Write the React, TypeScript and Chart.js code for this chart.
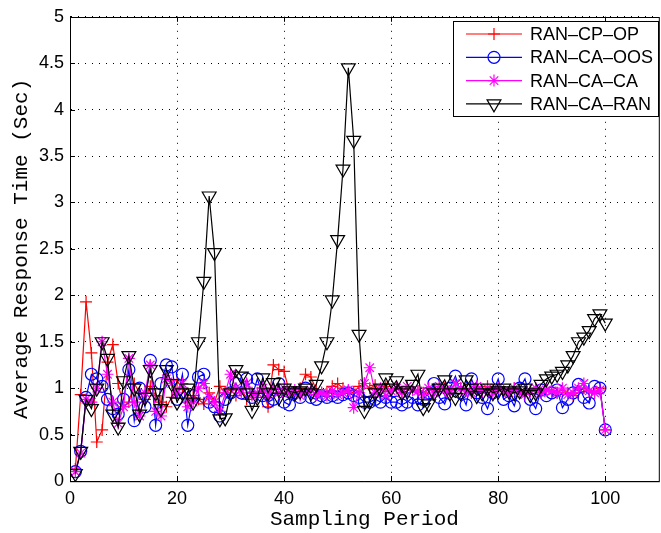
import { useEffect, useRef } from "react";
import { Chart, registerables, type ChartConfiguration, type Plugin } from "chart.js";
import { drawPoint } from "chart.js/helpers";

Chart.register(...registerables);

// average response time (sec) per sampling period 1..100
const cpOp = [
  0.13, 0.93, 1.93, 1.38, 0.42, 0.55, 1.28, 1.47, 1.05, 0.8,
  0.85, 1.05, 0.95, 0.88, 1.02, 0.92, 0.85, 0.8, 0.9, 1.08,
  1.0, 0.85, 0.92, 0.88, 0.83, 0.95, 0.85, 1.02, 0.95, 0.98,
  0.92, 1.0, 0.88, 0.95, 0.9, 1.0, 0.8, 1.25, 1.2, 1.18,
  0.95, 0.92, 1.0, 1.15, 1.12, 0.98, 0.95, 0.95, 1.02, 1.05,
  1.0, 0.97, 0.95, 1.02, 1.05, 1.0, 1.03, 0.98, 1.02, 0.97,
  1.0, 0.95, 1.02, 0.98, 0.97, 0.95, 1.0, 0.98, 1.02, 1.0,
  0.97, 1.05, 1.0, 0.98, 0.95, 1.0, 0.97, 1.02, 0.98, 1.0,
  0.97, 0.95, 1.0, 0.98, 0.95, 0.97, 1.0, 0.95, 0.98, 0.97,
  0.95, 0.98, 0.95, 0.92, 0.95, 1.0, 0.97, 0.95, 1.0, 0.55,
];

const caOos = [
  0.1, 0.32, 0.9, 1.15, 1.1, 1.02, 0.88, 0.78, 0.72, 0.88,
  1.2, 0.65, 1.0, 0.8, 1.3, 0.6, 1.05, 1.25, 1.23, 0.88,
  1.15, 0.6, 0.92, 1.12, 1.15, 0.85, 0.8, 0.7, 0.88, 0.95,
  1.05, 0.95, 1.1, 0.9, 1.1, 0.92, 0.85, 0.88, 1.05, 0.85,
  0.82, 0.95, 0.9, 1.0, 0.9, 0.88, 0.92, 0.9, 0.92, 0.9,
  0.93, 0.95, 0.92, 0.9, 0.85, 0.85, 0.88, 0.85, 0.9, 0.85,
  0.85, 0.82, 0.85, 0.9, 0.82, 0.88, 0.95, 1.05, 0.9, 0.83,
  1.0, 1.13, 0.95, 0.82, 1.1, 0.95, 0.9, 0.78, 0.95, 1.1,
  0.88, 0.92, 0.81, 1.0, 1.1, 0.88, 0.78, 0.98, 0.92, 0.95,
  0.98, 0.79, 0.88, 0.95, 1.04, 0.9, 0.84, 1.02, 1.0, 0.55,
];

const caCa = [
  0.1, 0.3, 0.88, 0.85, 1.0, 1.5, 1.15, 0.85, 0.62, 0.8,
  1.32, 0.85, 0.7, 0.95, 1.25, 0.75, 0.7, 1.1, 1.05, 0.95,
  1.05, 0.8, 0.85, 1.0, 1.05, 0.9, 0.85, 0.75, 0.95, 1.15,
  1.0, 0.95, 1.05, 0.92, 0.95, 1.0, 0.92, 1.0, 0.95, 1.0,
  0.95, 0.98, 0.92, 0.95, 0.98, 0.93, 0.95, 0.92, 0.97, 0.93,
  0.95, 0.98, 0.79, 0.95, 1.05, 1.22, 0.95, 1.0, 0.92, 0.97,
  1.0, 0.95, 1.02, 0.98, 0.97, 0.93, 1.0, 0.95, 1.02, 0.98,
  0.95, 1.05, 1.0, 0.97, 0.95, 1.02, 0.97, 1.0, 0.95, 1.0,
  0.97, 0.95, 1.0, 0.95, 0.93, 0.97, 1.0, 0.95, 0.98, 0.97,
  0.95, 1.0, 0.93, 0.95, 1.0, 1.05, 0.97, 0.95, 0.98, 0.55,
];

const caRan = [
  0.08, 0.32, 0.88, 0.78, 1.0, 1.5, 1.32, 0.72, 0.58, 1.08,
  1.35, 1.0, 0.72, 0.9, 1.2, 0.95, 0.78, 1.2, 1.05, 0.85,
  0.95, 1.0, 0.85, 1.5, 2.15, 3.07, 2.46, 0.67, 0.68, 0.95,
  1.2, 1.13, 0.95, 0.76, 0.9, 1.11, 0.95, 1.06, 0.9, 1.0,
  0.97, 0.95, 0.97, 1.0, 0.95, 1.04, 1.24, 1.5, 1.95, 2.6,
  3.36, 4.45, 3.67, 1.58, 0.76, 0.86, 0.95, 1.0, 1.11, 1.0,
  1.08, 0.95, 0.97, 1.04, 1.15, 0.79, 0.83, 0.95, 1.0, 1.09,
  0.95, 0.9, 0.95, 1.09, 1.0, 0.92, 0.95, 1.0, 0.95, 0.97,
  1.0, 0.97, 0.95, 0.97, 1.0, 0.93, 0.95, 1.04, 1.1, 1.13,
  1.15, 1.18, 1.25, 1.35, 1.5, 1.55, 1.62, 1.75, 1.8, 1.7,
];

const seriesNames = ["RAN\u2013CP\u2013OP", "RAN\u2013CA\u2013OOS", "RAN\u2013CA\u2013CA", "RAN\u2013CA\u2013RAN"];
const seriesColors = ["#ff0000", "#0000ff", "#ff00ff", "#000000"];
const seriesMarkers = ["cross", "circle", "star", "triangle"] as const;
const markerRadius = [6, 6, 6, 8];
const markerRotation = [0, 0, 0, 180];

const xTicks = [0, 20, 40, 60, 80, 100];
const yTicks = [0, 0.5, 1, 1.5, 2, 2.5, 3, 3.5, 4, 4.5, 5];

const tickFont = { family: "'Liberation Sans', Arial, sans-serif", size: 18 };
const titleFont = { family: "'Liberation Mono', 'Courier New', monospace", size: 21 };

const framePlugin: Plugin = {
  id: "frame",
  afterDraw(chart) {
    const { ctx, chartArea: a, scales } = chart;
    ctx.save();
    ctx.strokeStyle = "#000";
    ctx.lineWidth = 1;
    ctx.strokeRect(Math.round(a.left) + 0.5, Math.round(a.top) + 0.5, a.right - a.left, a.bottom - a.top);
    ctx.beginPath();
    for (const t of xTicks) {
      const px = Math.round(scales.x.getPixelForValue(t)) + 0.5;
      ctx.moveTo(px, a.bottom);
      ctx.lineTo(px, a.bottom - 5);
      ctx.moveTo(px, a.top);
      ctx.lineTo(px, a.top + 5);
    }
    for (const t of yTicks) {
      const py = Math.round(scales.y.getPixelForValue(t)) + 0.5;
      ctx.moveTo(a.left, py);
      ctx.lineTo(a.left + 5, py);
    }
    ctx.stroke();

    // legend box, top right
    const bx = 453, by = 21, bw = 205, bh = 95;
    ctx.fillStyle = "#fff";
    ctx.fillRect(bx, by, bw, bh);
    ctx.strokeRect(bx + 0.5, by + 0.5, bw, bh);
    ctx.font = `${tickFont.size}px ${tickFont.family}`;
    ctx.textBaseline = "middle";
    seriesNames.forEach((name, i) => {
      const y = 34 + i * 23.3;
      ctx.strokeStyle = seriesColors[i];
      ctx.lineWidth = 1.2;
      ctx.beginPath();
      ctx.moveTo(466, y);
      ctx.lineTo(522, y);
      ctx.stroke();
      ctx.fillStyle = "rgba(0,0,0,0)";
      drawPoint(ctx, { pointStyle: seriesMarkers[i], radius: markerRadius[i], rotation: markerRotation[i], borderWidth: 1.2 }, 494, y);
      ctx.fillStyle = "#000";
      ctx.fillText(name, 530, y + 1);
    });
    ctx.restore();
  },
};

export default function App() {
  const ref = useRef<HTMLCanvasElement | null>(null);
  const chartRef = useRef<Chart | null>(null);

  useEffect(() => {
    const el = ref.current;
    if (!el) return;
    chartRef.current?.destroy();

    const all = [cpOp, caOos, caCa, caRan];

    const cfg: ChartConfiguration<"line"> = {
      type: "line",
      data: {
        datasets: all.map((vals, i) => ({
          label: seriesNames[i],
          data: vals.map((y, k) => ({ x: k + 1, y })),
          borderColor: seriesColors[i],
          borderWidth: 1.2,
          pointStyle: seriesMarkers[i],
          pointRadius: markerRadius[i],
          pointRotation: markerRotation[i],
          pointBorderColor: seriesColors[i],
          pointBackgroundColor: "rgba(0,0,0,0)",
          pointBorderWidth: 1.2,
          tension: 0,
          fill: false,
          order: 3 - i,
        })),
      },
      options: {
        animation: false,
        responsive: false,
        events: [],
        layout: { padding: { top: 12, right: 3, left: 0, bottom: 0 } },
        plugins: { legend: { display: false }, tooltip: { enabled: false } },
        scales: {
          x: {
            type: "linear",
            min: 0,
            max: 110,
            afterFit: (s) => {
              s.height = 52;
            },
            ticks: {
              stepSize: 20,
              includeBounds: false,
              color: "#000",
              font: tickFont,
              padding: 7,
              maxRotation: 0,
            },
            grid: { color: "#000", lineWidth: 1, drawTicks: false },
            border: { display: true, color: "#000", dash: [1, 6] },
            title: {
              display: true,
              text: "Sampling Period",
              color: "#000",
              font: titleFont,
              padding: { top: 0, bottom: 1 },
            },
          },
          y: {
            min: 0,
            max: 5,
            afterFit: (s) => {
              s.width = 70;
            },
            ticks: {
              stepSize: 0.5,
              color: "#000",
              font: tickFont,
              padding: 6,
              callback: (v) => String(v),
            },
            grid: { color: "#000", lineWidth: 1, drawTicks: false },
            border: { display: true, color: "#000", dash: [1, 6] },
            title: {
              display: true,
              text: "Average Response Time (Sec)",
              color: "#000",
              font: titleFont,
              padding: { top: 9, bottom: 0 },
            },
          },
        },
      },
      plugins: [framePlugin],
    };

    chartRef.current = new Chart(el, cfg);
    return () => {
      chartRef.current?.destroy();
      chartRef.current = null;
    };
  }, []);

  return (
    <div style={{ position: "absolute", left: 0, top: 0, width: 661, height: 533, overflow: "hidden", background: "#fff" }}>
      <canvas ref={ref} width={668} height={533} />
    </div>
  );
}
